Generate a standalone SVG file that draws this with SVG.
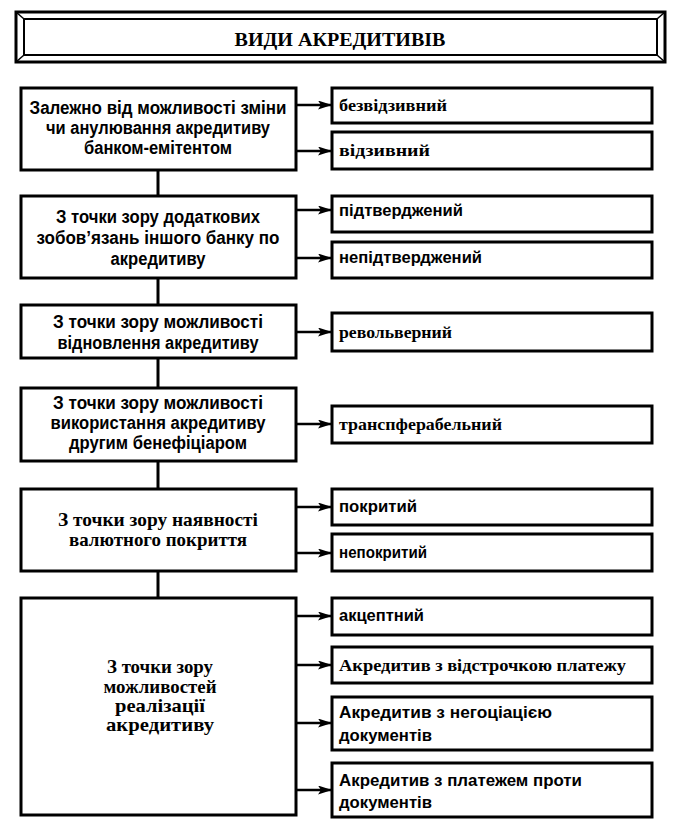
<svg xmlns="http://www.w3.org/2000/svg" width="679" height="834" viewBox="0 0 679 834">
<style>
.bg{fill:#fff}
.box{fill:#fff;stroke:#000;stroke-width:3}
.frame{fill:none;stroke:#000;stroke-width:3}
.frame2{fill:none;stroke:#000;stroke-width:2}
.t{font-family:"Liberation Sans",Arial,sans-serif;font-weight:bold;font-size:18px;fill:#000}
.ts{font-family:"Liberation Serif","Times New Roman",serif;font-weight:bold;font-size:19px;fill:#000}
.c{text-anchor:middle}
.r{font-size:17px}
.conn{stroke:#000;stroke-width:3;fill:none}
.arr{stroke:#000;stroke-width:2.5;fill:none;marker-end:url(#ah)}
</style>
<defs>
<marker id="ah" markerUnits="userSpaceOnUse" markerWidth="15" markerHeight="10" refX="14" refY="4.5" orient="auto">
<path d="M0,0 L14,4.5 L0,9 L3,4.5 z" fill="#000"/>
</marker>
</defs>
<rect class="bg" x="0" y="0" width="679" height="834"/>

<g id="title">
<rect class="frame" x="16" y="12" width="649" height="50"/>
<rect class="frame2" x="24" y="19" width="633" height="36"/>
<line x1="16" y1="12" x2="24" y2="19" stroke="#000" stroke-width="1.5"/>
<line x1="665" y1="12" x2="657" y2="19" stroke="#000" stroke-width="1.5"/>
<line x1="16" y1="62" x2="24" y2="55" stroke="#000" stroke-width="1.5"/>
<line x1="665" y1="62" x2="657" y2="55" stroke="#000" stroke-width="1.5"/>
<text class="ts c" x="340" y="46" textLength="211" lengthAdjust="spacingAndGlyphs">ВИДИ АКРЕДИТИВІВ</text>
</g>

<g id="connectors">
<line class="conn" x1="158" y1="170" x2="158" y2="196"/>
<line class="conn" x1="158" y1="278" x2="158" y2="305"/>
<line class="conn" x1="158" y1="358" x2="158" y2="388"/>
<line class="conn" x1="158" y1="461" x2="158" y2="489"/>
<line class="conn" x1="158" y1="571" x2="158" y2="598"/>
<line class="arr" x1="297" y1="105" x2="332" y2="105"/>
<line class="arr" x1="297" y1="151" x2="332" y2="151"/>
<line class="arr" x1="297" y1="210" x2="332" y2="210"/>
<line class="arr" x1="297" y1="258" x2="332" y2="258"/>
<line class="arr" x1="297" y1="332" x2="332" y2="332"/>
<line class="arr" x1="297" y1="424" x2="332" y2="424"/>
<line class="arr" x1="297" y1="507" x2="332" y2="507"/>
<line class="arr" x1="297" y1="553" x2="332" y2="553"/>
<line class="arr" x1="297" y1="616" x2="332" y2="616"/>
<line class="arr" x1="297" y1="665" x2="332" y2="665"/>
<line class="arr" x1="297" y1="723" x2="332" y2="723"/>
<line class="arr" x1="297" y1="790" x2="332" y2="790"/>
</g>

<g id="n1">
<rect class="box" x="21" y="88" width="275" height="82"/>
<text class="t c" x="158" y="114" textLength="257" lengthAdjust="spacingAndGlyphs">Залежно від можливості зміни</text>
<text class="t c" x="158" y="134" textLength="224" lengthAdjust="spacingAndGlyphs">чи анулювання акредитиву</text>
<text class="t c" x="158" y="154" textLength="148" lengthAdjust="spacingAndGlyphs">банком-емітентом</text>
</g>
<g id="n2">
<rect class="box" x="21" y="196" width="275" height="82"/>
<text class="t c" x="158" y="223" textLength="204" lengthAdjust="spacingAndGlyphs">З точки зору додаткових</text>
<text class="t c" x="158" y="244" textLength="243" lengthAdjust="spacingAndGlyphs">зобов’язань іншого банку по</text>
<text class="t c" x="158" y="265" textLength="95" lengthAdjust="spacingAndGlyphs">акредитиву</text>
</g>
<g id="n3">
<rect class="box" x="21" y="305" width="275" height="53"/>
<text class="t c" x="158" y="328" textLength="210" lengthAdjust="spacingAndGlyphs">З точки зору можливості</text>
<text class="t c" x="158" y="349" textLength="201" lengthAdjust="spacingAndGlyphs">відновлення акредитиву</text>
</g>
<g id="n4">
<rect class="box" x="21" y="388" width="275" height="73"/>
<text class="t c" x="158" y="409" textLength="210" lengthAdjust="spacingAndGlyphs">З точки зору можливості</text>
<text class="t c" x="158" y="429" textLength="215" lengthAdjust="spacingAndGlyphs">використання акредитиву</text>
<text class="t c" x="158" y="449" textLength="178" lengthAdjust="spacingAndGlyphs">другим бенефіціаром</text>
</g>
<g id="n5">
<rect class="box" x="21" y="489" width="275" height="82"/>
<text class="ts c" x="158" y="526" textLength="200" lengthAdjust="spacingAndGlyphs">З точки зору наявності</text>
<text class="ts c" x="158" y="546" textLength="178" lengthAdjust="spacingAndGlyphs">валютного покриття</text>
</g>
<g id="n6">
<rect class="box" x="21" y="598" width="275" height="217"/>
<text class="ts c" x="160" y="673" textLength="106" lengthAdjust="spacingAndGlyphs">З точки зору</text>
<text class="ts c" x="160" y="693" textLength="113" lengthAdjust="spacingAndGlyphs">можливостей</text>
<text class="ts c" x="160" y="712" textLength="90" lengthAdjust="spacingAndGlyphs">реалізації</text>
<text class="ts c" x="160" y="731" textLength="108" lengthAdjust="spacingAndGlyphs">акредитиву</text>
</g>

<g id="r1">
<rect class="box" x="332" y="88" width="320" height="35"/>
<text class="ts r" x="339" y="111" textLength="108" lengthAdjust="spacingAndGlyphs">безвідзивний</text>
</g>
<g id="r2">
<rect class="box" x="332" y="132" width="320" height="37"/>
<text class="ts r" x="339" y="156" textLength="91" lengthAdjust="spacingAndGlyphs">відзивний</text>
</g>
<g id="r3">
<rect class="box" x="332" y="196" width="320" height="36"/>
<text class="t r" x="339" y="216" textLength="124" lengthAdjust="spacingAndGlyphs">підтверджений</text>
</g>
<g id="r4">
<rect class="box" x="332" y="242" width="320" height="36"/>
<text class="t r" x="339" y="263" textLength="143" lengthAdjust="spacingAndGlyphs">непідтверджений</text>
</g>
<g id="r5">
<rect class="box" x="332" y="313" width="320" height="38"/>
<text class="ts r" x="339" y="338" textLength="113" lengthAdjust="spacingAndGlyphs">револьверний</text>
</g>
<g id="r6">
<rect class="box" x="332" y="406" width="320" height="37"/>
<text class="ts r" x="339" y="430" textLength="163" lengthAdjust="spacingAndGlyphs">транспферабельний</text>
</g>
<g id="r7">
<rect class="box" x="332" y="489" width="320" height="36"/>
<text class="t r" x="339" y="512" textLength="78" lengthAdjust="spacingAndGlyphs">покритий</text>
</g>
<g id="r8">
<rect class="box" x="332" y="534" width="320" height="37"/>
<text class="t r" x="339" y="558" textLength="88" lengthAdjust="spacingAndGlyphs">непокритий</text>
</g>
<g id="r9">
<rect class="box" x="332" y="598" width="320" height="37"/>
<text class="t r" x="339" y="621" textLength="85" lengthAdjust="spacingAndGlyphs">акцептний</text>
</g>
<g id="r10">
<rect class="box" x="332" y="647" width="320" height="36"/>
<text class="ts r" x="339" y="671" textLength="287" lengthAdjust="spacingAndGlyphs">Акредитив з відстрочкою платежу</text>
</g>
<g id="r11">
<rect class="box" x="332" y="697" width="320" height="53"/>
<text class="t r" x="339" y="718" textLength="213" lengthAdjust="spacingAndGlyphs">Акредитив з негоціацією</text>
<text class="t r" x="339" y="741" textLength="93" lengthAdjust="spacingAndGlyphs">документів</text>
</g>
<g id="r12">
<rect class="box" x="332" y="763" width="320" height="54"/>
<text class="t r" x="339" y="786" textLength="243" lengthAdjust="spacingAndGlyphs">Акредитив з платежем проти</text>
<text class="t r" x="339" y="808" textLength="93" lengthAdjust="spacingAndGlyphs">документів</text>
</g>
</svg>
